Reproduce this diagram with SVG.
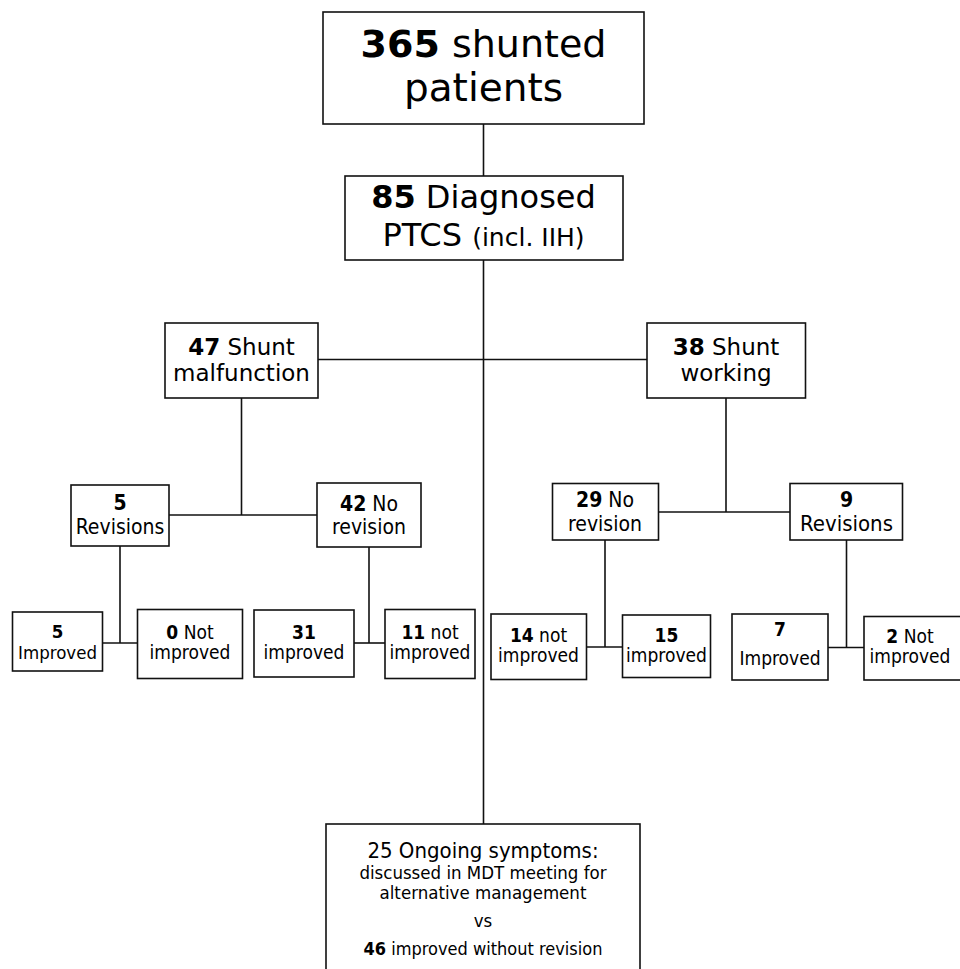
<svg xmlns="http://www.w3.org/2000/svg" width="960" height="969" viewBox="0 0 960 969">
<style>
rect{fill:#fff;stroke:#111;stroke-width:1.6}
.c line{stroke:#111;stroke-width:1.6}
text{font-family:"DejaVu Sans","Verdana",sans-serif;fill:#000;text-anchor:middle}
.k{font-family:"DejaVu Sans Condensed","DejaVu Sans",sans-serif;font-stretch:condensed}
.b{font-weight:bold}
</style>
<rect x="-1" y="-1" width="962" height="971" style="stroke:none"/>
<g class="c" id="connectors">
<line x1="483.5" y1="124" x2="483.5" y2="176"/>
<line x1="483.5" y1="260" x2="483.5" y2="824"/>
<line x1="318" y1="359.5" x2="647" y2="359.5"/>
<line x1="241.5" y1="398" x2="241.5" y2="515"/>
<line x1="169" y1="515" x2="317" y2="515"/>
<line x1="726" y1="398" x2="726" y2="512"/>
<line x1="658" y1="512" x2="790" y2="512"/>
<line x1="120" y1="546" x2="120" y2="643"/>
<line x1="102.5" y1="643" x2="137.5" y2="643"/>
<line x1="369" y1="547" x2="369" y2="643"/>
<line x1="354" y1="643" x2="385" y2="643"/>
<line x1="605" y1="540" x2="605" y2="647"/>
<line x1="586.5" y1="647" x2="622.5" y2="647"/>
<line x1="846.5" y1="540" x2="846.5" y2="647.5"/>
<line x1="828" y1="647.5" x2="864" y2="647.5"/>
</g>
<g id="n365">
<rect x="323" y="12" width="321" height="112"/>
<text x="483.5" y="57" font-size="38"><tspan class="b">365</tspan> shunted</text>
<text x="483.5" y="101" font-size="39">patients</text>
</g>
<g id="n85">
<rect x="345" y="176" width="278" height="84"/>
<text x="483.5" y="208" font-size="32"><tspan class="b">85</tspan> Diagnosed</text>
<text x="483.5" y="246" font-size="32">PTCS <tspan font-size="25">(incl. IIH)</tspan></text>
</g>
<g id="n47">
<rect x="165" y="323" width="153" height="75"/>
<text x="241.5" y="355" font-size="23"><tspan class="b">47</tspan> Shunt</text>
<text x="241.5" y="381" font-size="23">malfunction</text>
</g>
<g id="n38">
<rect x="647" y="323" width="158.5" height="75"/>
<text x="726" y="355" font-size="23"><tspan class="b">38</tspan> Shunt</text>
<text x="726" y="381" font-size="23">working</text>
</g>
<g id="n5rev" class="k">
<rect x="71" y="485" width="98" height="61"/>
<text class="k b" x="120" y="510" font-size="21">5</text>
<text class="k" x="120" y="534" font-size="21">Revisions</text>
</g>
<g id="n42">
<rect x="317" y="483" width="104" height="64"/>
<text class="k" x="369" y="511" font-size="21"><tspan class="b">42</tspan> No</text>
<text class="k" x="369" y="534" font-size="21">revision</text>
</g>
<g id="n29">
<rect x="552.5" y="483.5" width="106" height="56.5"/>
<text class="k" x="605" y="507" font-size="21"><tspan class="b">29</tspan> No</text>
<text class="k" x="605" y="531" font-size="21">revision</text>
</g>
<g id="n9rev">
<rect x="790" y="483.5" width="112.5" height="56.5"/>
<text class="k b" x="846.5" y="507" font-size="21">9</text>
<text class="k" x="846.5" y="531" font-size="22">Revisions</text>
</g>
<g id="l5imp">
<rect x="12.5" y="612" width="90" height="59"/>
<text class="k b" x="57.5" y="638" font-size="18.5">5</text>
<text class="k" x="57.5" y="659" font-size="18.5">Improved</text>
</g>
<g id="l0not">
<rect x="137.5" y="609.5" width="105" height="69"/>
<text class="k" x="190" y="639" font-size="19"><tspan class="b">0</tspan> Not</text>
<text class="k" x="190" y="659" font-size="19">improved</text>
</g>
<g id="l31imp">
<rect x="254" y="610" width="100" height="67"/>
<text class="k b" x="304" y="639" font-size="19">31</text>
<text class="k" x="304" y="659" font-size="19">improved</text>
</g>
<g id="l11not">
<rect x="385" y="609.5" width="90" height="69"/>
<text class="k" x="430" y="639" font-size="19"><tspan class="b">11</tspan> not</text>
<text class="k" x="430" y="659" font-size="19">improved</text>
</g>
<g id="l14not">
<rect x="491" y="614" width="95.5" height="65.5"/>
<text class="k" x="538.5" y="642" font-size="19"><tspan class="b">14</tspan> not</text>
<text class="k" x="538.5" y="662" font-size="19">improved</text>
</g>
<g id="l15imp">
<rect x="622.5" y="615" width="88" height="62.5"/>
<text class="k b" x="666.5" y="642" font-size="19">15</text>
<text class="k" x="666.5" y="662" font-size="19">improved</text>
</g>
<g id="l7imp">
<rect x="732" y="614" width="96" height="66"/>
<text class="k b" x="780" y="636" font-size="19">7</text>
<text class="k" x="780" y="665" font-size="19">Improved</text>
</g>
<g id="l2not">
<rect x="864" y="616.5" width="110" height="63.5"/>
<text class="k" x="910" y="643" font-size="19"><tspan class="b">2</tspan> Not</text>
<text class="k" x="910" y="663" font-size="19">improved</text>
</g>
<g id="nbottom">
<rect x="326" y="824" width="314" height="160"/>
<text class="k" x="483" y="858" font-size="22">25 Ongoing symptoms:</text>
<text class="k" x="483" y="879" font-size="18.5">discussed in MDT meeting for</text>
<text class="k" x="483" y="899" font-size="18.5">alternative management</text>
<text class="k" x="483" y="927" font-size="18.5">vs</text>
<text class="k" x="483" y="955" font-size="18"><tspan class="b">46</tspan> improved without revision</text>
</g>
</svg>
